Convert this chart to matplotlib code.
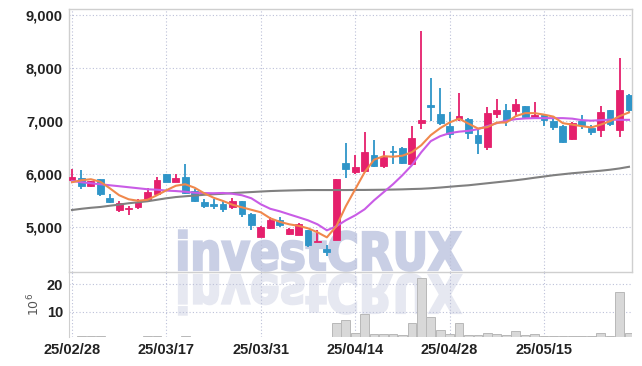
import matplotlib
matplotlib.use("Agg")
import matplotlib.pyplot as plt
from matplotlib import font_manager
from matplotlib.font_manager import FontProperties
from matplotlib.textpath import TextPath
from matplotlib.patches import PathPatch
from matplotlib.transforms import Affine2D, IdentityTransform

# trading days (YY/MM/DD)
dates = ["25/02/28", "25/03/04", "25/03/05", "25/03/06", "25/03/07",
         "25/03/10", "25/03/11", "25/03/12", "25/03/13", "25/03/14",
         "25/03/17", "25/03/18", "25/03/19", "25/03/20", "25/03/21",
         "25/03/24", "25/03/25", "25/03/26", "25/03/27", "25/03/28",
         "25/03/31", "25/04/01", "25/04/02", "25/04/03", "25/04/04",
         "25/04/07", "25/04/08", "25/04/09", "25/04/10", "25/04/11",
         "25/04/14", "25/04/15", "25/04/16", "25/04/17", "25/04/18",
         "25/04/21", "25/04/22", "25/04/23", "25/04/24", "25/04/25",
         "25/04/28", "25/04/29", "25/04/30", "25/05/02", "25/05/07",
         "25/05/08", "25/05/09", "25/05/12", "25/05/13", "25/05/14",
         "25/05/15", "25/05/16", "25/05/19", "25/05/20", "25/05/21",
         "25/05/22", "25/05/23", "25/05/26", "25/05/27", "25/05/28"]

opens = [5892, 5938, 5787, 5906, 5560, 5327, 5340, 5390, 5510, 5636,
         6000, 5855, 5950, 5685, 5477, 5447, 5434, 5383, 5490, 5258,
         4824, 4987, 5138, 4868, 4862, 4943, 4730, 4590, 4760, 6208,
         6043, 6062, 6358, 6157, 6428, 6503, 6200, 6956, 7302, 7132,
         6906, 7044, 7044, 6736, 6510, 7138, 7208, 7183, 7277, 7082,
         7113, 7006, 6911, 6660, 7006, 6868, 6830, 7208, 6830, 7490]
highs = [6094, 6075, 5880, 5915, 5636, 5497, 5410, 5542, 5750, 5950,
         6010, 5995, 6200, 5730, 5540, 5540, 5500, 5545, 5500, 5270,
         5020, 5190, 5195, 4990, 5090, 4950, 4943, 4665, 5905, 6585,
         6358, 6805, 6640, 6440, 6535, 6510, 6900, 8690, 7805, 7617,
         7164, 7523, 7050, 6862, 7258, 7415, 7320, 7415, 7290, 7364,
         7130, 7070, 6930, 6987, 7113, 6925, 7290, 7215, 8183, 7510]
lows = [5880, 5730, 5760, 5590, 5450, 5283, 5240, 5340, 5500, 5620,
        5850, 5850, 5620, 5470, 5365, 5340, 5283, 5340, 5190, 4940,
        4810, 4975, 5000, 4850, 4850, 4635, 4725, 4460, 4760, 5938,
        6000, 6040, 6130, 6113, 6190, 6200, 6180, 6850, 7006, 6930,
        6680, 7006, 6670, 6377, 6460, 7060, 6911, 7100, 7050, 7040,
        6900, 6830, 6590, 6640, 6849, 6736, 6698, 6900, 6698, 7150]
closes = [5949, 5780, 5868, 5636, 5477, 5453, 5365, 5485, 5660, 5890,
          5855, 5925, 5655, 5495, 5410, 5410, 5340, 5490, 5258, 5050,
          5000, 5132, 5038, 4975, 5070, 4660, 4735, 4535, 5905, 6094,
          6145, 6415, 6164, 6334, 6420, 6213, 6680, 7019, 7264, 6962,
          6755, 7094, 6774, 6585, 7151, 7208, 7019, 7320, 7069, 7113,
          7019, 6893, 6609, 6962, 6925, 6800, 7170, 6943, 7584, 7207]

ma5 = [5849, 5887, 5906, 5858, 5736, 5604, 5528, 5500, 5519, 5604,
       5698, 5783, 5811, 5745, 5642, 5557, 5496, 5425, 5377, 5330,
       5283, 5170, 5104, 5057, 5028, 4981, 4906, 4811, 5019, 5396,
       5717, 6038, 6274, 6340, 6330, 6349, 6415, 6547, 6736, 6868,
       6975, 7047, 6953, 6862, 6887, 6972, 6975, 7094, 7151, 7151,
       7123, 7085, 6962, 6934, 6906, 6881, 6934, 7000, 7094, 7164]
ma20 = [5874, 5849, 5830, 5811, 5792, 5774, 5755, 5736, 5717, 5708,
        5692, 5683, 5670, 5651, 5645, 5642, 5647, 5632, 5604, 5547,
        5434, 5349, 5302, 5245, 5189, 5132, 5057, 4943, 5019, 5132,
        5226, 5340, 5509, 5660, 5811, 5981, 6170, 6415, 6623, 6717,
        6774, 6802, 6817, 6849, 6906, 6962, 7009, 7038, 7051, 7057,
        7057, 7057, 7057, 7047, 7019, 7009, 7019, 7028, 7025, 7025]
ma_long = [5326, 5349, 5368, 5383, 5406, 5428, 5453, 5472, 5491, 5519,
           5547, 5570, 5585, 5598, 5613, 5623, 5632, 5645, 5655, 5664,
           5674, 5683, 5689, 5694, 5698, 5702, 5702, 5702, 5702, 5702,
           5704, 5704, 5706, 5708, 5711, 5715, 5721, 5726, 5736, 5749,
           5764, 5779, 5792, 5811, 5830, 5849, 5868, 5887, 5909, 5934,
           5957, 5981, 6000, 6019, 6034, 6051, 6066, 6085, 6109, 6140]

# volume in millions
volume = [0.6, 1.2, 1.1, 1.1, 0.7, 0.5, 0.5, 0.6, 1.1, 1.1,
          0.7, 0.6, 1.2, 0.7, 0.7, 0.6, 0.8, 0.7, 0.6, 0.8,
          0.7, 0.6, 0.7, 0.8, 0.7, 0.6, 0.7, 0.8, 6.0, 7.0,
          2.5, 9.2, 2.1, 1.9, 1.9, 1.5, 6.1, 22.2, 8.2, 3.6,
          1.9, 6.1, 1.5, 1.5, 2.5, 1.9, 1.5, 3.2, 1.5, 2.1,
          1.2, 1.1, 1.1, 1.1, 1.1, 1.1, 2.5, 1.1, 17.1, 2.5]

tick_idx = [0, 10, 20, 30, 40, 50]
price_ticks = [5000, 6000, 7000, 8000, 9000]
vol_ticks = [10, 20]

UP = "#e5206c"
DOWN = "#2f95c8"
GRID = "#bcc0d8"
SPINE = "#cfcfcf"


def pick_font(names):
    for n in names:
        try:
            font_manager.findfont(FontProperties(family=n), fallback_to_default=False)
            return n
        except Exception:
            pass
    return "DejaVu Sans"


label_font = pick_font(["Liberation Sans Narrow", "Liberation Sans", "DejaVu Sans"])

W, H = 642, 366
fig = plt.figure(figsize=(W / 100, H / 100), dpi=100)
fig.patch.set_facecolor("white")

x0, x1 = 68.5, 632
ax = fig.add_axes([x0 / W, (H - 272) / H, (x1 - x0) / W, (272 - 9) / H])
axv = fig.add_axes([x0 / W, (H - 337) / H, (x1 - x0) / W, (337 - 272) / H], sharex=ax)
for a in (ax, axv):
    a.patch.set_alpha(0)

# watermark and its reflection, drawn behind everything
wm_prop = FontProperties(family="DejaVu Sans", weight="bold")
tp = TextPath((0, 0), "investCRUX", size=1, prop=wm_prop)
cap = TextPath((0, 0), "X", size=1, prop=wm_prop).get_extents().height
ext = tp.get_extents()
sx = 282 / ext.width
sy = 38 / cap
base = H - 270
tr = Affine2D().translate(-ext.x0, 0).scale(sx, sy).translate(179, base)
fig.patches.append(PathPatch(tr.transform_path(tp), facecolor="#c9cfe5", edgecolor="#c9cfe5",
                             lw=1.6, transform=IdentityTransform(), zorder=-5, figure=fig))
trm = Affine2D().translate(-ext.x0, 0).scale(sx, -sy).translate(179, base - 5)
fig.patches.append(PathPatch(trm.transform_path(tp), facecolor="#e6e8f1", edgecolor="#e6e8f1",
                             lw=1.6, transform=IdentityTransform(), zorder=-5, figure=fig))

n = len(closes)
xs = list(range(n))

# candles
for i in xs:
    o, h, l, c = opens[i], highs[i], lows[i], closes[i]
    col = UP if c >= o else DOWN
    ax.vlines(i, l, h, color=col, lw=1.3, zorder=3)
    bh = max(abs(c - o), 18)
    ax.bar(i, bh, bottom=min(o, c), width=0.72, color=col, edgecolor=col, lw=0.6, zorder=4)

ax.plot(xs, ma_long, color="#808080", lw=1.5, zorder=5)
ax.plot(xs, ma20, color="#c95ce6", lw=1.5, zorder=5)
ax.plot(xs, ma5, color="#f0884c", lw=1.5, zorder=6)

axv.bar(xs, volume, width=0.92, color="#d8d8d8", edgecolor="#b8b8b8", lw=0.7, zorder=3)

ax.set_xlim(-0.37, 59.32)
ax.set_ylim(4158, 9113)
axv.set_ylim(0.9, 24.5)

ax.set_yticks(price_ticks)
ax.set_yticklabels([f"{v:,}" for v in price_ticks])
axv.set_yticks(vol_ticks)
axv.set_xticks(tick_idx)
axv.set_xticklabels([dates[i] for i in tick_idx])

for a in (ax, axv):
    a.grid(True, color=GRID, lw=0.8, linestyle=(0, (1, 2)), zorder=1)
    a.tick_params(length=0, labelsize=10.5, labelcolor="#222222", pad=4)
    for lab in a.get_xticklabels() + a.get_yticklabels():
        lab.set_family(label_font)
        lab.set_weight("bold")
ax.tick_params(axis="x", labelbottom=False)

for s in ax.spines.values():
    s.set_color(SPINE)
    s.set_linewidth(1.0)
axv.spines["left"].set_color(SPINE)
for s in ("top", "right", "bottom"):
    axv.spines[s].set_visible(False)

axv.set_ylabel(r"$10^6$", fontsize=9, color="#555555", labelpad=3)

fig.savefig("out.png", dpi=100)
